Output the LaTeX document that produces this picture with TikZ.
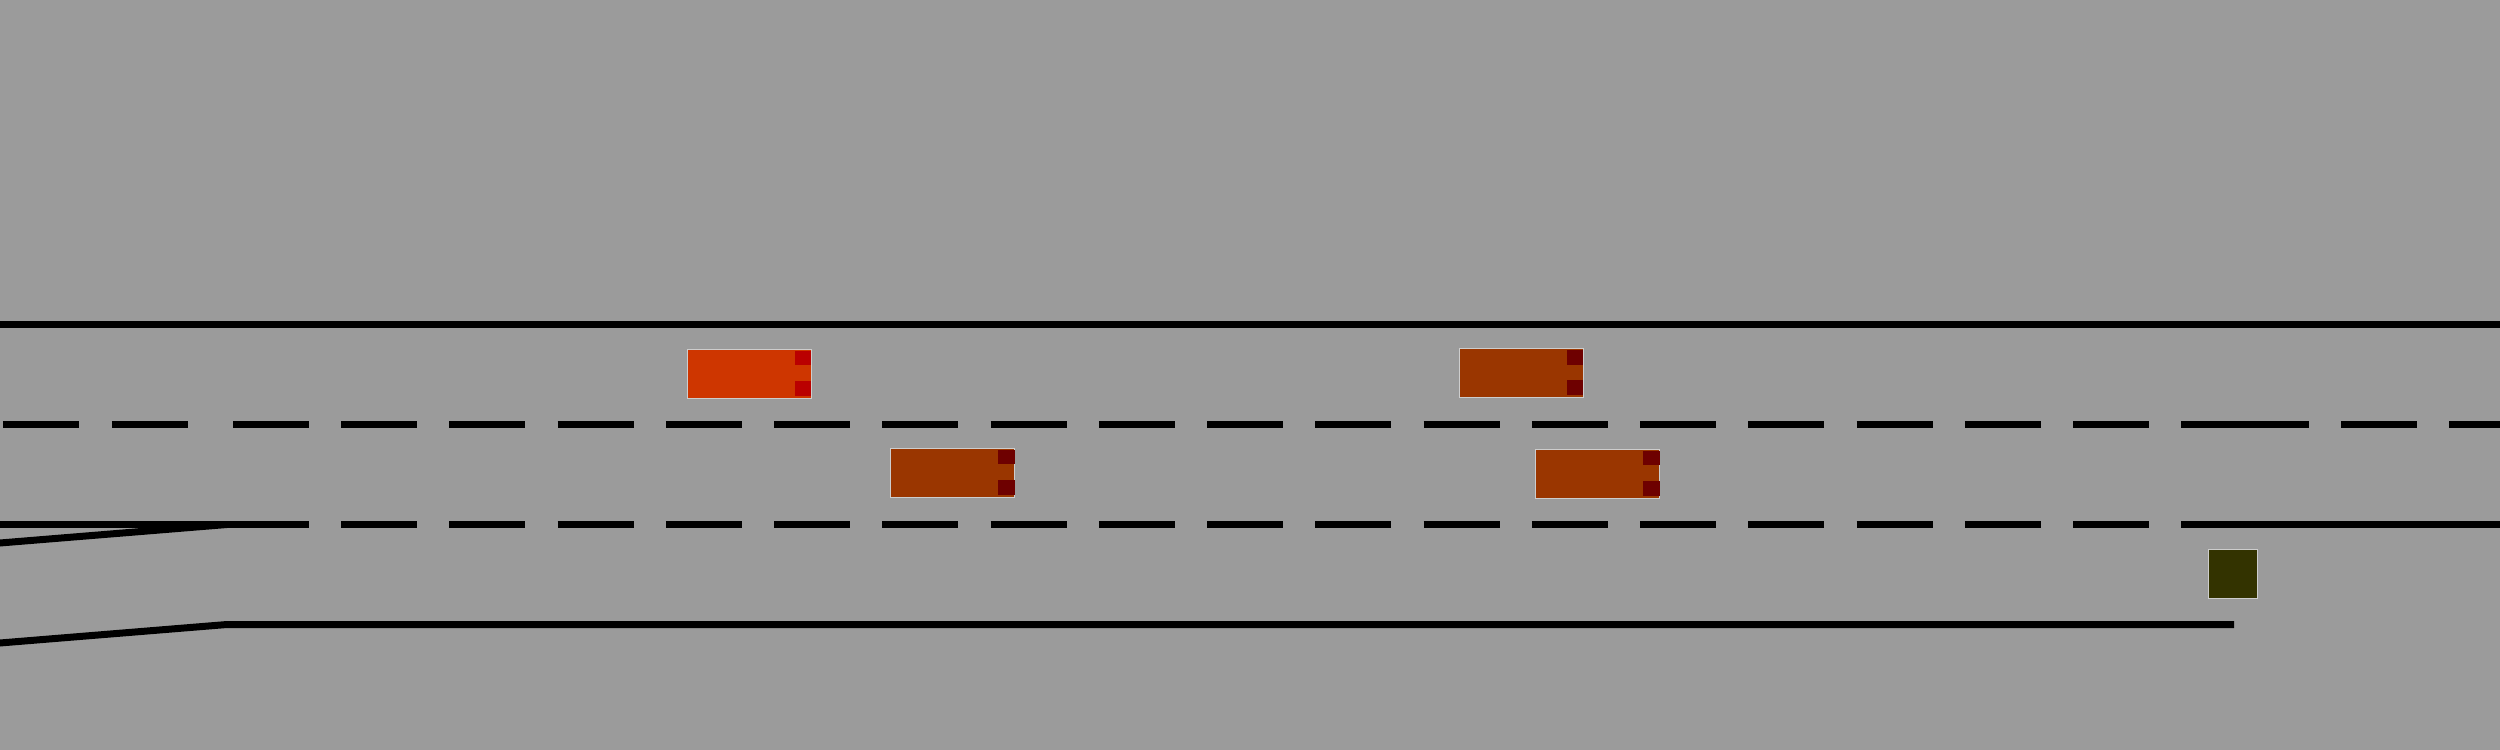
\documentclass[tikz,border=0pt]{standalone}
\usepackage{tikz}

\definecolor{road}{RGB}{155,155,155}
\definecolor{rim}{RGB}{205,205,205}
\definecolor{redcar}{RGB}{206,54,0}
\definecolor{redlamp}{RGB}{186,0,0}
\definecolor{browncar}{RGB}{154,54,0}
\definecolor{brownlamp}{RGB}{110,0,0}
\definecolor{block}{RGB}{51,51,0}

\begin{document}
\begin{tikzpicture}[x=0.1mm,y=-0.1mm,
  edge/.style={line width=0.7mm,black},
  lanedash/.style={edge,dash pattern=on 7.6mm off 3.224mm},
  car/.style={rectangle,draw=rim,line width=0.1mm,inner sep=0pt,minimum width=12.4mm,minimum height=4.9mm},
  lamp/.style={fill=#1}]
\useasboundingbox (0,0) rectangle (2500,750);
\clip (0,0) rectangle (2500,750);
\fill[road] (0,0) rectangle (2500,750);

% road edges
\draw[edge] (0,324.5) -- (2500,324.5);
\draw[edge] (-5,543.4) -- (227,524.5);
\draw[edge] (-5,643.4) -- (227,624.5) -- (2234,624.5);

% lane markings
\draw[edge,dash pattern=on 7.6mm off 3.3mm] (3,424.5) -- (188,424.5);
\draw[lanedash] (233,424.5) -- (2233,424.5);
\draw[edge,dash pattern=on 7.6mm off 3.2mm] (2233,424.5) -- (2500,424.5);
\draw[edge] (0,524.5) -- (233,524.5);
\draw[lanedash] (233,524.5) -- (2233,524.5);
\draw[edge] (2233,524.5) -- (2500,524.5);

% vehicles
\node[car,fill=redcar] (c1) at (749,373.8) {};
\fill[lamp=redlamp] ([shift={(-17,2)}]c1.north east) rectangle ([shift={(-0.5,16.5)}]c1.north east);
\fill[lamp=redlamp] ([shift={(-17,-18)}]c1.south east) rectangle ([shift={(-0.5,-3)}]c1.south east);

\node[car,fill=browncar] (c2) at (952.5,472.8) {};
\fill[lamp=brownlamp] ([shift={(-17,2)}]c2.north east) rectangle ([shift={(-0.5,16.5)}]c2.north east);
\fill[lamp=brownlamp] ([shift={(-17,-18)}]c2.south east) rectangle ([shift={(-0.5,-3)}]c2.south east);

\node[car,fill=browncar] (c3) at (1521.3,373) {};
\fill[lamp=brownlamp] ([shift={(-17,2)}]c3.north east) rectangle ([shift={(-0.5,16.5)}]c3.north east);
\fill[lamp=brownlamp] ([shift={(-17,-18)}]c3.south east) rectangle ([shift={(-0.5,-3)}]c3.south east);

\node[car,fill=browncar] (c4) at (1597.5,473.8) {};
\fill[lamp=brownlamp] ([shift={(-17,2)}]c4.north east) rectangle ([shift={(-0.5,16.5)}]c4.north east);
\fill[lamp=brownlamp] ([shift={(-17,-18)}]c4.south east) rectangle ([shift={(-0.5,-3)}]c4.south east);

% obstacle
\node[car,fill=block,minimum width=4.9mm] (stop) at (2233,574) {};

\end{tikzpicture}
\end{document}
